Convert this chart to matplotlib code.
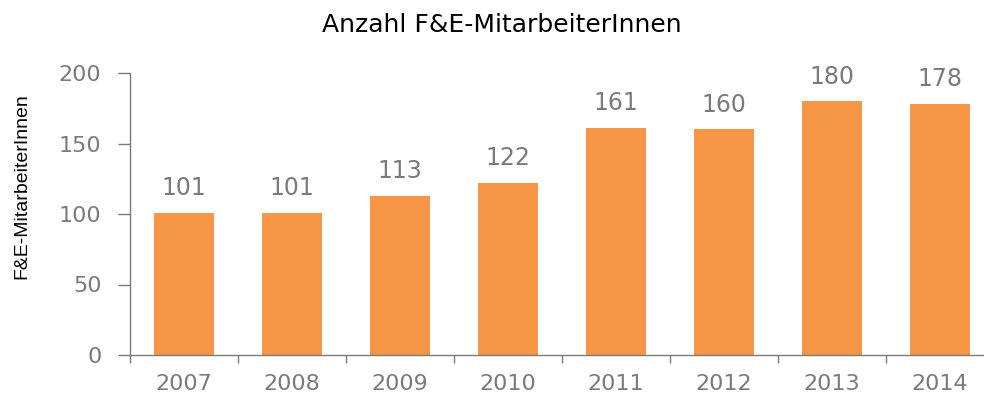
import matplotlib
matplotlib.use("Agg")
import matplotlib.pyplot as plt

# Data
years = ["2007", "2008", "2009", "2010", "2011", "2012", "2013", "2014"]
staff = [101, 101, 113, 122, 161, 160, 180, 178]

bar_color = "#F79646"
grey = "#7a7a7a"
plt.rcParams["font.family"] = ["DejaVu Sans"]

fig = plt.figure(figsize=(9.84, 4.01), dpi=100)
ax = fig.add_axes([130 / 984, 46 / 401, 864 / 984, 282 / 401])

x = list(range(len(years)))
ax.bar(x, staff, width=0.55, color=bar_color, zorder=2)

for xi, v in zip(x, staff):
    ax.text(xi, v + 9, str(v), ha="center", va="bottom", fontsize=17, color=grey)

ax.set_xlim(-0.5, len(years) - 0.5)
ax.set_ylim(0, 200)
ax.set_yticks([0, 50, 100, 150, 200])

# category labels centered, ticks between categories
ax.set_xticks([i - 0.5 for i in range(len(years) + 1)])
ax.set_xticklabels([])
ax.set_xticks(x, minor=True)
ax.set_xticklabels(years, minor=True)
ax.tick_params(axis="x", which="minor", length=0, pad=14, labelsize=16, labelcolor=grey)
ax.tick_params(axis="x", which="major", length=6, color=grey, width=1)
ax.tick_params(axis="y", length=8.6, width=1, color=grey, labelsize=16, labelcolor=grey, pad=12)

for side in ["top", "right"]:
    ax.spines[side].set_visible(False)
for side in ["left", "bottom"]:
    ax.spines[side].set_color(grey)
    ax.spines[side].set_linewidth(1)

fig.text(22 / 984, 0.535, "F&E-MitarbeiterInnen", rotation=90, ha="center", va="center",
         fontsize=14, family="Liberation Sans")
fig.text(0.51, 0.938, "Anzahl F&E-MitarbeiterInnen", ha="center", va="center", fontsize=18)

fig.savefig("out.png", dpi=100)
